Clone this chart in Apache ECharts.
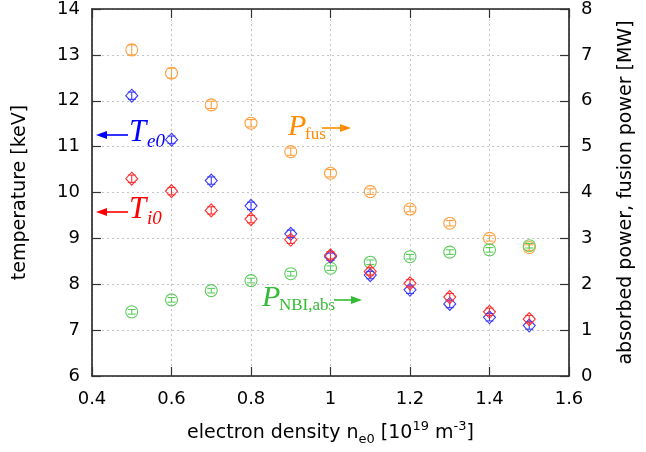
<!DOCTYPE html>
<html><head><meta charset="utf-8">
<script src="https://cdn.jsdelivr.net/npm/echarts@6/dist/echarts.min.js"></script>
<style>html,body{margin:0;padding:0;background:#fff}#c{width:646px;height:452px}</style>
</head><body><div id="c"></div>
<script>
// ---- data ----
const density = [0.5, 0.6, 0.7, 0.8, 0.9, 1.0, 1.1, 1.2, 1.3, 1.4, 1.5];
const Te0  = [12.11, 11.15, 10.26, 9.71, 9.10, 8.60, 8.20, 7.88, 7.57, 7.28, 7.10];
const Ti0  = [10.30, 10.03, 9.61, 9.42, 8.97, 8.63, 8.28, 8.02, 7.72, 7.40, 7.24];
const Pfus = [7.11, 6.60, 5.91, 5.51, 4.89, 4.42, 4.02, 3.64, 3.33, 3.00, 2.80];
const Pnbi = [1.40, 1.66, 1.86, 2.08, 2.23, 2.35, 2.48, 2.60, 2.70, 2.75, 2.84];
const errTe   = [0.08, 0.08, 0.08, 0.08, 0.08, 0.08, 0.08, 0.08, 0.08, 0.08, 0.08];
const errTi   = [0.08, 0.08, 0.08, 0.08, 0.08, 0.08, 0.08, 0.08, 0.08, 0.08, 0.08];
const errPfus = [0.11, 0.11, 0.08, 0.08, 0.08, 0.08, 0.06, 0.06, 0.06, 0.06, 0.06];
const errPnbi = [0.05, 0.05, 0.05, 0.05, 0.05, 0.05, 0.05, 0.05, 0.05, 0.05, 0.05];
const xTicks = {min: 0.4, max: 1.6, interval: 0.2};
const yLeftTicks = {min: 6, max: 14, interval: 1};
const yRightTicks = {min: 0, max: 8, interval: 1};

const SANS = 'DejaVu Sans';
const SERIF = 'Liberation Serif';

function markerSeries(name, ys, errs, yAxisIndex, color, shape) {
  return {
    type: 'custom', name: name, xAxisIndex: 0, yAxisIndex: yAxisIndex,
    data: density.map((x, i) => [x, ys[i], errs[i]]),
    renderItem: function (params, api) {
      const x = api.value(0), y = api.value(1), e = api.value(2);
      const c = api.coord([x, y]);
      const t = api.coord([x, y + e]);
      const b = api.coord([x, y - e]);
      const st = {stroke: color, fill: 'none', lineWidth: 1.1};
      const children = [];
      if (shape === 'circle') {
        children.push({type: 'circle', shape: {cx: c[0], cy: c[1], r: 6}, style: st});
      } else {
        children.push({type: 'polygon', shape: {points: [[c[0], c[1] - 6.5], [c[0] + 6, c[1]], [c[0], c[1] + 6.5], [c[0] - 6, c[1]]]}, style: st});
      }
      children.push({type: 'line', shape: {x1: c[0], y1: t[1], x2: c[0], y2: b[1]}, style: st});
      children.push({type: 'line', shape: {x1: c[0] - 4, y1: t[1], x2: c[0] + 4, y2: t[1]}, style: st});
      children.push({type: 'line', shape: {x1: c[0] - 4, y1: b[1], x2: c[0] + 4, y2: b[1]}, style: st});
      return {type: 'group', children: children};
    }
  };
}

function arrow(x1, x2, y, color) {
  const dir = x2 > x1 ? 1 : -1;
  return {
    type: 'group', children: [
      {type: 'line', shape: {x1: x1, y1: y, x2: x2 - dir * 8, y2: y}, style: {stroke: color, lineWidth: 1.6}},
      {type: 'polygon', shape: {points: [[x2, y], [x2 - dir * 11, y - 4], [x2 - dir * 11, y + 4]]}, style: {fill: color}}
    ]
  };
}
function txt(x, y, s, size, color, italic) {
  return {type: 'text', style: {x: x, y: y, text: s, fontFamily: SERIF, fontSize: size,
    fontStyle: italic ? 'italic' : 'normal', fill: color, align: 'left', verticalAlign: 'middle'}};
}

const axisLineStyle = {color: '#222', width: 1.6};
const tickStyle = {show: true, inside: true, length: 9, lineStyle: {color: '#333', width: 1.2}};
const gridLine = {show: true, lineStyle: {color: '#c4c4c4', type: [2, 3], width: 1}};
const labelStyle = {color: '#000', fontFamily: SANS, fontSize: 18};

const chart = echarts.init(document.getElementById('c'), null, {renderer: 'canvas'});
chart.setOption({
  animation: false,
  backgroundColor: '#fff',
  grid: {left: 92, right: 77, top: 9, bottom: 76, containLabel: false},
  xAxis: [{
    type: 'value', position: 'bottom', min: xTicks.min, max: xTicks.max, interval: xTicks.interval,
    axisLine: {show: true, lineStyle: axisLineStyle}, axisTick: tickStyle,
    axisLabel: Object.assign({margin: 14}, labelStyle), splitLine: gridLine,
    name: 'electron density n{sub|e0} [10{sup|19} m{sup|-3}]', nameLocation: 'middle', nameGap: 44,
    nameTextStyle: {color: '#000', fontFamily: SANS, fontSize: 19, lineHeight: 26,
      rich: {sub: {fontFamily: SANS, fontSize: 13, verticalAlign: 'bottom', lineHeight: 13, color: '#000'},
             sup: {fontFamily: SANS, fontSize: 13, verticalAlign: 'top', lineHeight: 13, color: '#000'}}}
  }, {
    type: 'value', position: 'top', min: xTicks.min, max: xTicks.max, interval: xTicks.interval,
    axisLine: {show: true, lineStyle: axisLineStyle}, axisTick: tickStyle,
    axisLabel: {show: false}, splitLine: {show: false}
  }],
  yAxis: [{
    type: 'value', position: 'left', min: yLeftTicks.min, max: yLeftTicks.max, interval: yLeftTicks.interval,
    axisLine: {show: true, lineStyle: axisLineStyle}, axisTick: tickStyle,
    axisLabel: Object.assign({margin: 12}, labelStyle), splitLine: gridLine,
    name: 'temperature [keV]', nameLocation: 'middle', nameGap: 62,
    nameTextStyle: {color: '#000', fontFamily: SANS, fontSize: 19}
  }, {
    type: 'value', position: 'right', min: yRightTicks.min, max: yRightTicks.max, interval: yRightTicks.interval,
    axisLine: {show: true, lineStyle: axisLineStyle}, axisTick: tickStyle,
    axisLabel: Object.assign({margin: 12}, labelStyle), splitLine: {show: false},
    name: 'absorbed power, fusion power [MW]', nameLocation: 'middle', nameGap: 48,
    nameTextStyle: {color: '#000', fontFamily: SANS, fontSize: 19}
  }],
  series: [
    markerSeries('Pfus', Pfus, errPfus, 1, '#ffa040', 'circle'),
    markerSeries('PNBI,abs', Pnbi, errPnbi, 1, '#5ccc5c', 'circle'),
    markerSeries('Te0', Te0, errTe, 0, '#3a3aff', 'diamond'),
    markerSeries('Ti0', Ti0, errTi, 0, '#ff3030', 'diamond')
  ],
  graphic: [
    arrow(128, 96, 135, '#0000ff'),
    txt(129, 133, 'T', 31, '#0000ff', true),
    txt(147, 142, 'e0', 19, '#0000ff', true),
    arrow(128, 96, 212, '#ff0000'),
    txt(129, 210, 'T', 31, '#ff0000', true),
    txt(147, 219, 'i0', 19, '#ff0000', true),
    txt(288, 127, 'P', 30, '#ff8c00', true),
    txt(305, 135, 'fus', 17, '#ff8c00', false),
    arrow(322, 351, 128, '#ff8c00'),
    txt(262, 298, 'P', 30, '#33bb33', true),
    txt(279, 306, 'NBI,abs', 17, '#33bb33', false),
    arrow(334, 362, 300, '#33bb33')
  ]
});
</script>
</body></html>
